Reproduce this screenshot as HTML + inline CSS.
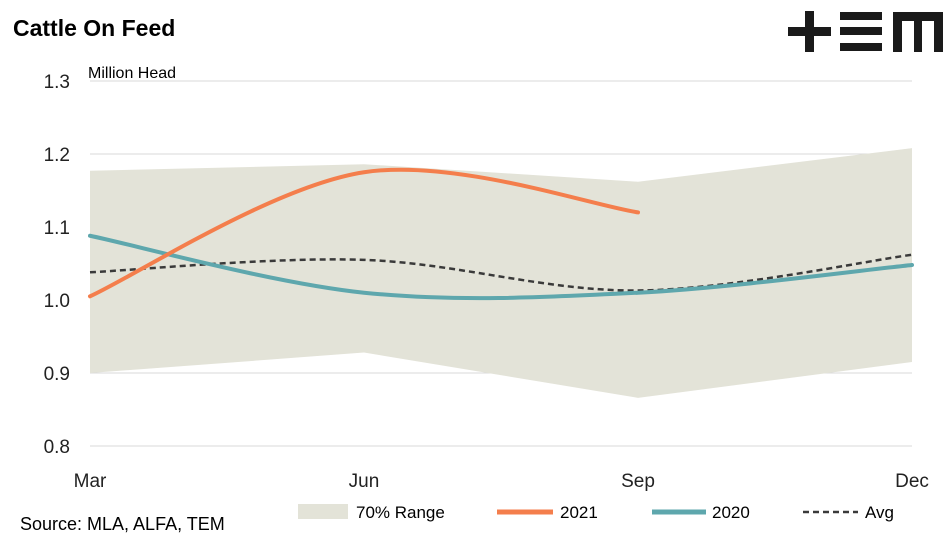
<!DOCTYPE html>
<html><head><meta charset="utf-8"><style>
body{margin:0;background:#fff;font-family:"Liberation Sans",sans-serif;}
svg text{font-family:"Liberation Sans",sans-serif;}
</style></head><body>
<svg width="949" height="539">
<text x="13" y="36" font-size="23" font-weight="bold" fill="#000">Cattle On Feed</text>
<g fill="#1a1a1a">
<rect x="788" y="27" width="43" height="9"/><rect x="805" y="11" width="9" height="41"/>
<rect x="840" y="12" width="42" height="8"/><rect x="840" y="27" width="42" height="8"/><rect x="840" y="43" width="42" height="8"/>
<path d="M893 12H943V52H934V21H922V52H914V21H902V52H893Z"/>
</g>
<text x="88" y="78" font-size="16" fill="#000">Million Head</text>
<g id="grid"></g><g id="marks"></g>
<g>
<rect x="298" y="504" width="50" height="15" fill="#e3e3d8"/>
<text x="356" y="518" font-size="17">70% Range</text>
<line x1="497" y1="512" x2="553" y2="512" stroke="#f47e4c" stroke-width="5"/>
<text x="560" y="518" font-size="17">2021</text>
<line x1="652" y1="512" x2="706" y2="512" stroke="#5ea7ad" stroke-width="5"/>
<text x="712" y="518" font-size="17">2020</text>
<line x1="803" y1="512" x2="858" y2="512" stroke="#3a3a3a" stroke-width="2.5" stroke-dasharray="6,4"/>
<text x="865" y="518" font-size="17">Avg</text>
</g>
<text x="20" y="530" font-size="18">Source: MLA, ALFA, TEM</text>
</svg>
<script>
const categories=["Mar","Jun","Sep","Dec"];
const yTicks=[0.8,0.9,1.0,1.1,1.2,1.3];
const rangeUpper=[1.177,1.186,1.162,1.208];
const rangeLower=[0.900,0.928,0.866,0.915];
const s2021=[1.005,1.175,1.120];
const s2020=[1.088,1.010,1.010,1.048];
const sAvg=[1.038,1.055,1.013,1.062];
const NS="http://www.w3.org/2000/svg";
const x=i=>90+i*274, y=v=>446-(v-0.8)*730;
function mk(t,a,p){const e=document.createElementNS(NS,t);for(const k in a)e.setAttribute(k,a[k]);p.appendChild(e);return e;}
const grid=document.getElementById('grid'),marks=document.getElementById('marks');
yTicks.forEach(v=>{
  if(v>0.8){const l=mk('line',{x1:90,x2:912,y1:y(v),y2:y(v),stroke:'#d9d9d9','stroke-width':1},grid);
  
  }
  const t=mk('text',{x:70,y:y(v)+7,'font-size':19,'text-anchor':'end',fill:'#222'},grid);t.textContent=v.toFixed(1);
  
  
});
const ax=mk('line',{x1:90,x2:912,y1:446,y2:446,stroke:'#d9d9d9'},grid);


categories.forEach((c,i)=>{const t=mk('text',{x:x(i),y:487,'font-size':19,'text-anchor':'middle',fill:'#222'},grid);t.textContent=c;
  
  });
let d='M'+rangeUpper.map((v,i)=>x(i)+','+y(v)).join('L')+'L'+rangeLower.map((v,i)=>x(i)+','+y(v)).reverse().join('L')+'Z';
const band=mk('path',{d:d,fill:'#e3e3d8'},marks);


function smooth(a){const p=a.map((v,i)=>[x(i),y(v)]);let s='M'+p[0];for(let i=0;i<p.length-1;i++){const p0=p[i-1]||p[i],p1=p[i],p2=p[i+1],p3=p[i+2]||p2;
 const c1=[p1[0]+(p2[0]-p0[0])/6,p1[1]+(p2[1]-p0[1])/6],c2=[p2[0]-(p3[0]-p1[0])/6,p2[1]-(p3[1]-p1[1])/6];s+='C'+c1+' '+c2+' '+p2;}return s;}
const a=mk('path',{d:smooth(sAvg),fill:'none',stroke:'#3a3a3a','stroke-width':2.5,'stroke-dasharray':'6,4'},marks);


const b=mk('path',{d:smooth(s2020),fill:'none',stroke:'#5ea7ad','stroke-width':4,'stroke-linecap':'round'},marks);


const c=mk('path',{d:smooth(s2021),fill:'none',stroke:'#f47e4c','stroke-width':4,'stroke-linecap':'round'},marks);


</script>
</body></html>
